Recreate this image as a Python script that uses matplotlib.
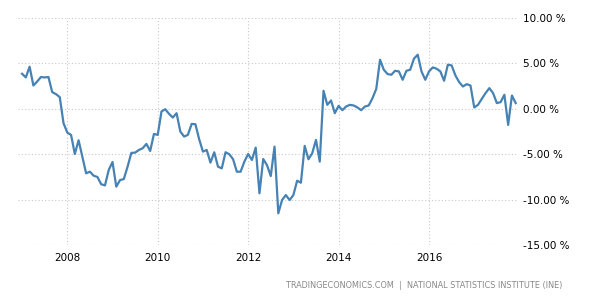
import numpy as np
import matplotlib
matplotlib.use('Agg')
import matplotlib.pyplot as plt

# monthly values, Jan 2007 .. Dec 2017 (percent)
start_year = 2007
values = [
    3.86, 3.46, 4.64, 2.57, 3.0, 3.5, 3.46, 3.5, 1.84, 1.62, 1.29, -1.58,
    -2.61, -2.87, -4.97, -3.46, -5.26, -7.1, -6.92, -7.36, -7.5, -8.3, -8.43, -6.73,
    -5.85, -8.57, -7.84, -7.73, -6.37, -4.85, -4.82, -4.53, -4.34, -3.86, -4.64, -2.76,
    -2.87, -0.29, -0.04, -0.55, -0.96, -0.48, -2.5, -3.05, -2.87, -1.66, -1.69, -3.35,
    -4.71, -4.53, -5.92, -4.78, -6.37, -6.55, -4.78, -5.0, -5.55, -6.92, -6.92, -5.81,
    -4.97, -5.63, -4.27, -9.3, -5.52, -6.2, -7.4, -4.16, -11.5, -10.04, -9.49, -10.04,
    -9.49, -7.91, -8.13, -4.08, -5.55, -4.89, -3.42, -5.81, 1.99, 0.44, 0.92, -0.48,
    0.33, -0.15, 0.26, 0.44, 0.37, 0.15, -0.15, 0.26, 0.37, 1.18, 2.2, 5.41,
    4.3, 3.83, 3.75, 4.19, 4.12, 3.2, 4.19, 4.3, 5.52, 5.96, 4.12, 3.2,
    4.12, 4.56, 4.42, 4.12, 3.09, 4.86, 4.78, 3.68, 2.94, 2.46, 2.72, 2.57,
    0.15, 0.44, 1.1, 1.73, 2.28, 1.73, 0.63, 0.74, 1.55, -1.77, 1.47, 0.63,
]
year_ticks = [2008, 2010, 2012, 2014, 2016]
y_ticks = [10, 5, 0, -5, -10, -15]
source = 'TRADINGECONOMICS.COM  |  NATIONAL STATISTICS INSTITUTE (INE)'

x = start_year + np.arange(len(values)) / 12.0

fig = plt.figure(figsize=(6, 3), dpi=100)
ax = fig.add_axes([0.03, 0.183, 0.832, 0.757])

ax.plot(x, values, color='#4682b4', linewidth=1.6)

ax.set_xlim(2006.91, 2017.95)
ax.set_ylim(-15, 10)
ax.set_xticks(year_ticks)
ax.set_xticklabels([str(t) for t in year_ticks])
ax.set_yticks(y_ticks)
ax.set_yticklabels(['%.2f %%' % t for t in y_ticks])
ax.yaxis.tick_right()

ax.grid(True, color='#c8c8c8', linestyle=(0, (1, 2)), linewidth=0.8)
for s in ax.spines.values():
    s.set_visible(False)
ax.tick_params(axis='both', length=0, labelsize=7.5, colors='black')
ax.tick_params(axis='y', pad=4)
ax.tick_params(axis='x', pad=6)

fig.text(0.938, 0.047, source, ha='right', va='center', fontsize=5.9, color='#888888')

fig.savefig('out.png', dpi=100)
